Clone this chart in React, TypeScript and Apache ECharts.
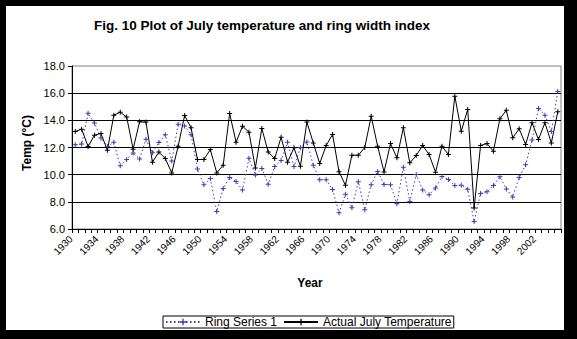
import React, { useEffect, useRef } from "react";
import * as echarts from "echarts";

const startYear = 1930;
const endYear = 2005;
const years: string[] = [];
for (let y = startYear; y <= endYear; y++) years.push(String(y));

const ringSeries1 = [
  12.2, 12.25, 14.52, 13.8, 12.7, 12.08, 12.38, 10.65, 11.12, 11.6,
  11.15, 12.6, 11.61, 12.36, 12.94, 11.0, 13.72, 13.58, 12.94, 10.42,
  9.25, 9.71, 7.29, 8.99, 9.8, 9.5, 8.87, 11.2, 9.97, 10.45,
  9.3, 10.6, 11.05, 12.39, 10.6, 11.98, 12.41, 10.69, 9.62, 9.62,
  8.9, 7.19, 8.56, 7.56, 9.48, 7.42, 9.26, 10.24, 9.28, 9.26,
  7.85, 10.55, 8.02, 10.02, 8.88, 8.52, 9.01, 9.87, 9.65, 9.2,
  9.22, 8.92, 6.55, 8.62, 8.74, 9.2, 9.85, 8.95, 8.36, 9.8,
  10.73, 12.55, 14.87, 14.38, 13.18, 16.12,
];

const julyTemperature = [
  13.18, 13.35, 12.07, 12.91, 13.03, 11.8, 14.38, 14.6, 14.24, 11.88,
  13.89, 13.87, 10.92, 11.66, 11.19, 10.13, 12.1, 14.36, 13.45, 11.12,
  11.12, 11.85, 10.13, 10.7, 14.51, 12.39, 13.57, 13.13, 10.5, 13.4,
  11.66, 11.19, 12.76, 10.92, 11.98, 10.62, 13.87, 12.34, 10.82, 12.15,
  12.96, 10.21, 9.22, 11.43, 11.43, 12.0, 14.3, 12.1, 10.2, 12.29,
  11.24, 13.45, 10.87, 11.41, 12.15, 11.48, 10.18, 12.1, 11.48, 15.78,
  13.2, 14.8, 7.55, 12.15, 12.29, 11.73, 14.11, 14.75, 12.71, 13.38,
  12.22, 13.82, 12.59, 13.82, 12.34, 14.63,
];

const FONT = "'Liberation Sans', Arial, sans-serif";
const PLUS = "path://M2,0H3V2H5V3H3V5H2V3H0V2H2Z";

export default function App() {
  const ref = useRef<HTMLDivElement>(null);
  useEffect(() => {
    if (!ref.current) return;
    const chart = echarts.init(ref.current, undefined, { renderer: "svg" });
    chart.setOption({
      animation: false,
      grid: {
        left: 72,
        right: 16,
        top: 66,
        bottom: 110,
        show: true,
        borderColor: "#808080",
        borderWidth: 1,
        backgroundColor: "transparent",
      },
      xAxis: {
        type: "category",
        data: years,
        boundaryGap: true,
        axisLine: { show: true, lineStyle: { color: "#000", width: 1 } },
        axisTick: { show: true, interval: 0, length: 4, lineStyle: { color: "#000" } },
        axisLabel: {
          interval: 3,
          rotate: 45,
          fontSize: 10,
          fontFamily: FONT,
          color: "#000",
          margin: 4,
          padding: [0, 6, 0, 0],
        },
        splitLine: { show: false },
      },
      yAxis: {
        type: "value",
        min: 6,
        max: 18,
        interval: 2,
        axisLine: { show: true, lineStyle: { color: "#000", width: 1 } },
        axisTick: { show: true, length: 4, lineStyle: { color: "#000" } },
        axisLabel: {
          formatter: (v: number) => v.toFixed(1),
          fontSize: 11,
          fontFamily: FONT,
          color: "#000",
          margin: 7,
        },
        splitLine: { show: true, showMaxLine: false, lineStyle: { color: "#000", width: 1 } },
      },
      legend: {
        left: 163,
        top: 316,
        orient: "horizontal",
        backgroundColor: "#fff",
        borderColor: "#000",
        borderWidth: 1,
        borderRadius: 0,
        padding: [0, 2],
        itemWidth: 34,
        itemHeight: 8,
        itemGap: 6,
        textStyle: { fontSize: 12, fontFamily: FONT, color: "#000", lineHeight: 12 },
        data: ["Ring Series 1", "Actual July Temperature"],
      },
      graphic: [
        {
          type: "text",
          x: 262,
          y: 25,
          style: {
            text: "Fig. 10 Plot of July temperature and ring width index",
            font: `bold 13.5px ${FONT}`,
            fill: "#000",
            textAlign: "center",
            textVerticalAlign: "middle",
          },
        },
        {
          type: "text",
          x: 27,
          y: 143,
          rotation: Math.PI / 2,
          style: {
            text: "Temp (°C)",
            font: `bold 12px ${FONT}`,
            fill: "#000",
            textAlign: "center",
            textVerticalAlign: "middle",
          },
        },
        {
          type: "text",
          x: 310,
          y: 283,
          style: {
            text: "Year",
            font: `bold 12px ${FONT}`,
            fill: "#000",
            textAlign: "center",
            textVerticalAlign: "middle",
          },
        },
      ],
      series: [
        {
          name: "Ring Series 1",
          type: "line",
          data: ringSeries1,
          symbol: PLUS,
          symbolSize: 5,
          showAllSymbol: true,
          lineStyle: { color: "#3c3cb4", width: 1, type: [1.5, 2.5] },
          itemStyle: { color: "#3c3cb4" },
        },
        {
          name: "Actual July Temperature",
          type: "line",
          data: julyTemperature,
          symbol: PLUS,
          symbolSize: 5,
          showAllSymbol: true,
          lineStyle: { color: "#000", width: 1 },
          itemStyle: { color: "#000" },
        },
      ],
    });
    return () => chart.dispose();
  }, []);

  return (
    <div style={{ position: "fixed", left: 0, top: 0, width: 577, height: 339, background: "#000" }}>
      <div style={{ position: "absolute", left: 6, top: 6, width: 558, height: 324, background: "#fff" }} />
      <div ref={ref} style={{ position: "absolute", left: 0, top: 0, width: 577, height: 339 }} />
    </div>
  );
}
